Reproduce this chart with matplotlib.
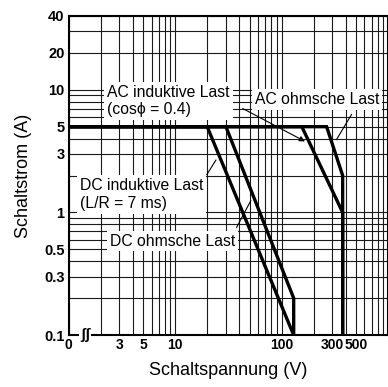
import matplotlib
matplotlib.use('Agg')
import matplotlib.pyplot as plt
from matplotlib.ticker import FixedLocator, NullFormatter, LogLocator
import numpy as np

plt.rcParams['font.family'] = ['Liberation Sans', 'DejaVu Sans']

# Kennlinien (Spannung V, Strom A)
dc_ind_v = [1, 20, 130]
dc_ind_i = [5, 5, 0.1]
dc_ohm_v = [1, 30, 130, 130]
dc_ohm_i = [5, 5, 0.2, 0.1]
ac_ind_v = [1, 155, 375, 375]
ac_ind_i = [5, 5, 1, 0.1]
ac_ohm_v = [1, 265, 375, 375]
ac_ohm_i = [5, 5, 2, 0.1]

xticks = [1, 3, 5, 10, 100, 300, 500]
xlabels = ['0', '3', '5', '10', '100', '300', '500']
yticks = [0.1, 0.3, 0.5, 1, 3, 5, 10, 20, 40]
ylabels = ['0.1', '0.3', '0.5', '1', '3', '5', '10', '20', '40']

fig = plt.figure(figsize=(3.88, 3.87), dpi=100)
ax = fig.add_axes([0.177, 0.134, 0.823, 0.825])
ax.set_xscale('log')
ax.set_yscale('log')
ax.set_xlim(1, 1000)
ax.set_ylim(0.1, 40)

ax.xaxis.set_major_locator(FixedLocator(xticks))
ax.set_xticklabels(xlabels)
ax.yaxis.set_major_locator(FixedLocator(yticks))
ax.set_yticklabels(ylabels)
ax.xaxis.set_minor_locator(LogLocator(base=10, subs=np.arange(1, 10)))
ax.yaxis.set_minor_locator(LogLocator(base=10, subs=np.arange(1, 10)))
ax.xaxis.set_minor_formatter(NullFormatter())
ax.yaxis.set_minor_formatter(NullFormatter())
ax.tick_params(which='both', length=0)
ax.tick_params(axis='x', pad=2, labelsize=10)
ax.tick_params(axis='y', pad=3, labelsize=10.5)
for lab in ax.get_xticklabels() + ax.get_yticklabels():
    lab.set_fontweight('bold')

ax.grid(which='both', color='#1a1a1a', linewidth=0.8)
ax.set_axisbelow(True)
for s in ax.spines.values():
    s.set_linewidth(1.5)

lw = 2.4
for v, i in [(dc_ind_v, dc_ind_i), (dc_ohm_v, dc_ohm_i),
             (ac_ind_v, ac_ind_i), (ac_ohm_v, ac_ohm_i)]:
    ax.plot(v, i, color='black', linewidth=lw, zorder=4, solid_joinstyle='miter')

box = dict(facecolor='white', edgecolor='none', pad=2)
fs = 11.3
ax.text(2.3, 8.1, 'AC induktive Last\n(cos\u03d5 = 0.4)', fontsize=fs,
        ha='left', va='center', linespacing=1.2, bbox=box, zorder=3)
ax.text(56, 8.3, 'AC ohmsche Last', fontsize=fs, ha='left', va='center',
        bbox=box, zorder=3)
ax.text(1.28, 1.4, 'DC induktive Last\n(L/R = 7 ms)', fontsize=fs,
        ha='left', va='center', linespacing=1.2, bbox=box, zorder=3)
ax.text(2.45, 0.585, 'DC ohmsche Last', fontsize=fs, ha='left', va='center',
        bbox=box, zorder=3)

arr = dict(arrowstyle='-|>', color='black', lw=0.8, mutation_scale=8)
ax.annotate('', xy=(175, 3.7), xytext=(41, 7.2), arrowprops=arr, zorder=5)
ax.annotate('', xy=(318, 3.75), xytext=(470, 6.6),
            arrowprops=dict(arrowstyle='-', color='black', lw=0.8), zorder=5)
ax.annotate('', xy=(25, 2.8), xytext=(19.2, 1.94),
            arrowprops=dict(arrowstyle='-', color='black', lw=0.8), zorder=5)
ax.annotate('', xy=(53, 1.31), xytext=(36.7, 0.72),
            arrowprops=dict(arrowstyle='-', color='black', lw=0.8), zorder=5)

# Achsenbruch
ax.text(0.052, 0.0, '\u0283\u0283', transform=ax.transAxes, fontsize=11,
        fontweight='bold', ha='center', va='center',
        bbox=dict(facecolor='white', edgecolor='none', pad=0.5), zorder=6,
        clip_on=False)

ax.set_xlabel('Schaltspannung (V)', fontsize=13, labelpad=7)
ax.set_ylabel('Schaltstrom (A)', fontsize=13, labelpad=9)

fig.savefig('out.png', dpi=100)
